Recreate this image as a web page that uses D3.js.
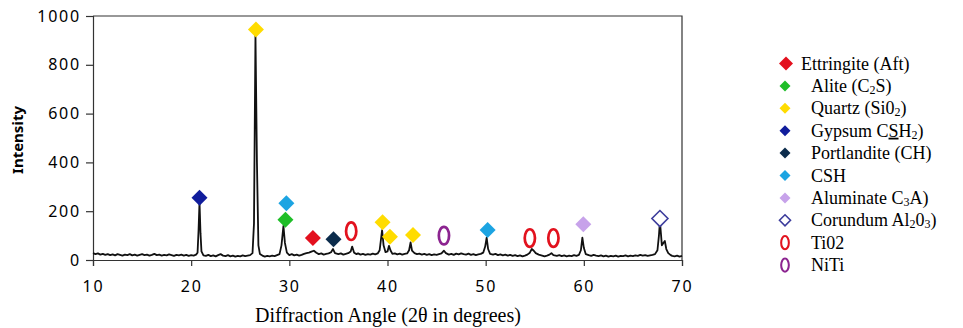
<!DOCTYPE html>
<html>
<head>
<meta charset="utf-8">
<script src="https://cdn.jsdelivr.net/npm/d3@7"></script>
<style>
  body { margin: 0; background: #fff; }
  .tick text { font-family: "Noto Sans", "Open Sans", sans-serif; font-size: 16px; letter-spacing: 1.8px; fill: #000; }
</style>
</head>
<body>
<div id="chart"></div>
<script>
// XRD pattern (2theta, intensity)
var pattern = [
  [10.0,28],[10.25,24],[10.5,27],[10.75,22],[11.0,25],[11.25,21],[11.5,24],[11.75,20],[12.0,23],[12.25,19],
  [12.5,24],[12.75,21],[13.0,18],[13.25,22],[13.5,20],[13.75,24],[14.0,19],[14.25,22],[14.5,18],[14.75,21],
  [15.0,24],[15.25,20],[15.5,22],[15.75,18],[16.0,21],[16.25,25],[16.5,20],[16.75,22],[17.0,18],[17.25,21],
  [17.5,19],[17.75,23],[18.0,20],[18.25,17],[18.5,21],[18.75,19],[19.0,22],[19.25,18],[19.5,21],[19.75,17],
  [20.0,20],[20.25,18],[20.5,22],[20.65,30],[20.75,120],[20.85,238],[20.95,110],[21.05,35],[21.25,19],[21.5,17],
  [21.75,21],[22.0,16],[22.25,19],[22.5,15],[22.75,20],[23.0,24],[23.25,18],[23.5,16],[23.75,20],[24.0,15],
  [24.25,18],[24.5,14],[24.75,17],[25.0,15],[25.25,19],[25.5,16],[25.75,18],[26.0,20],[26.25,28],[26.4,150],
  [26.55,925],[26.7,400],[26.85,60],[27.0,25],[27.25,18],[27.5,14],[27.75,17],[28.0,15],[28.25,18],[28.5,16],
  [28.75,20],[29.0,24],[29.2,60],[29.4,140],[29.55,70],[29.75,30],[30.0,20],[30.25,24],[30.5,19],[30.75,22],
  [31.0,18],[31.25,21],[31.5,25],[31.75,28],[32.0,30],[32.25,34],[32.5,38],[32.75,30],[33.0,24],[33.25,27],
  [33.5,22],[33.75,25],[34.0,27],[34.25,32],[34.45,45],[34.65,28],[35.0,24],[35.25,27],[35.5,22],[35.75,25],
  [36.0,28],[36.25,35],[36.4,55],[36.6,30],[36.85,24],[37.0,27],[37.25,22],[37.5,25],[37.75,21],[38.0,24],
  [38.25,22],[38.5,26],[38.75,23],[39.0,27],[39.2,40],[39.35,90],[39.45,122],[39.6,60],[39.8,32],[40.0,35],
  [40.15,58],[40.3,40],[40.5,25],[40.75,27],[41.0,23],[41.25,26],[41.5,22],[41.75,25],[42.0,27],[42.2,40],
  [42.35,72],[42.5,38],[42.75,28],[43.0,24],[43.25,26],[43.5,22],[43.75,25],[44.0,21],[44.25,24],[44.5,20],
  [44.75,23],[45.0,21],[45.25,24],[45.5,27],[45.75,38],[45.95,28],[46.25,22],[46.5,25],[46.75,21],[47.0,26],
  [47.25,23],[47.5,27],[47.75,24],[48.0,22],[48.25,26],[48.5,21],[48.75,24],[49.0,20],[49.25,23],[49.5,25],
  [49.75,30],[49.95,55],[50.1,92],[50.25,45],[50.45,25],[50.75,22],[51.0,25],[51.25,20],[51.5,23],[51.75,19],
  [52.0,22],[52.25,18],[52.5,21],[52.75,17],[53.0,20],[53.25,16],[53.5,19],[53.75,15],[54.0,18],[54.25,22],
  [54.5,30],[54.7,45],[54.9,38],[55.1,28],[55.4,22],[55.75,18],[56.0,15],[56.25,18],[56.5,22],[56.7,28],
  [56.9,20],[57.25,17],[57.5,20],[57.75,16],[58.0,19],[58.25,15],[58.5,18],[58.75,16],[59.0,20],[59.25,17],
  [59.5,21],[59.7,40],[59.85,92],[60.0,50],[60.2,24],[60.5,20],[60.75,17],[61.0,21],[61.25,18],[61.5,16],
  [61.75,19],[62.0,15],[62.25,18],[62.5,14],[62.75,17],[63.0,15],[63.25,18],[63.5,14],[63.75,17],[64.0,16],
  [64.25,19],[64.5,15],[64.75,18],[65.0,16],[65.25,19],[65.5,17],[65.75,21],[66.0,18],[66.25,20],[66.5,17],
  [66.75,19],[67.0,21],[67.25,24],[67.5,40],[67.65,100],[67.75,158],[67.85,110],[67.95,60],[68.1,70],[68.25,78],
  [68.4,45],[68.6,28],[68.85,20],[69.0,17],[69.25,15],[69.5,18],[69.75,14],[70.0,17]
];

// phases: legend order, colour, marker type
var phaseNames  = ["Ettringite", "Alite", "Quartz", "Gypsum", "Portlandite", "CSH", "Aluminate", "Corundum", "Ti02", "NiTi"];
var phaseColors = ["#e3101e", "#1fbe28", "#ffdc00", "#101c9c", "#0c2c4c", "#1ca4e2", "#c7a2ea", "#3c3c9c", "#e2121e", "#8c2490"];
var phaseShapes = ["diamond", "diamond", "diamond", "diamond", "diamond", "diamond", "diamond", "open", "ring", "ring"];

// legend labels: [text, style] pieces (0 plain, 1 subscript, 2 underlined)
var legendLabels = [
  [["Ettringite (Aft)", 0]],
  [["Alite (C", 0], ["2", 1], ["S)", 0]],
  [["Quartz (Si0", 0], ["2", 1], [")", 0]],
  [["Gypsum C", 0], ["S", 2], ["H", 0], ["2", 1], [")", 0]],
  [["Portlandite (CH)", 0]],
  [["CSH", 0]],
  [["Aluminate C", 0], ["3", 1], ["A)", 0]],
  [["Corundum Al", 0], ["2", 1], ["0", 0], ["3", 1], [")", 0]],
  [["Ti02", 0]],
  [["NiTi", 0]]
];

// peak markers: [phase index, 2theta, intensity]
var peakMarks = [
  [3, 20.85, 255], [2, 26.6, 945], [5, 29.7, 233], [1, 29.6, 165], [0, 32.4, 90],
  [4, 34.5, 85], [8, 36.3, 118], [2, 39.5, 155], [2, 40.25, 95], [2, 42.6, 102],
  [9, 45.75, 100], [5, 50.2, 123], [8, 54.5, 90], [8, 56.9, 90], [6, 59.95, 147],
  [7, 67.75, 170]
];

var xTicks = [10, 20, 30, 40, 50, 60, 70];
var yTicks = [0, 200, 400, 600, 800, 1000];

var W = 963, H = 328;
var svg = d3.select("#chart").append("svg")
  .attr("width", W)
  .attr("height", H);

var x = d3.scaleLinear().domain([10, 70]).range([93, 682]);
var y = d3.scaleLinear().domain([0, 1000]).range([260, 16]);

// frame top + right
svg.append("path")
  .attr("d", "M" + x(10) + "," + y(1000) + "H" + x(70) + "V" + y(0))
  .attr("fill", "none")
  .attr("stroke", "#333")
  .attr("stroke-width", 1.2);

// axes
svg.append("g")
  .attr("transform", "translate(0," + y(0) + ")")
  .call(d3.axisBottom(x).tickValues(xTicks).tickSize(6).tickPadding(15).tickFormat(d3.format("d")))
  .call(function(g) { g.selectAll("line, path").attr("stroke", "#333").attr("stroke-width", 1.2); });

svg.append("g")
  .attr("transform", "translate(" + x(10) + ",0)")
  .call(d3.axisLeft(y).tickValues(yTicks).tickSize(7).tickPadding(5).tickFormat(d3.format("d")))
  .call(function(g) { g.selectAll("line, path").attr("stroke", "#333").attr("stroke-width", 1.2); });

// pattern line
var line = d3.line()
  .x(function(d) { return x(d[0]); })
  .y(function(d) { return y(d[1]); });

svg.append("path")
  .attr("d", line(pattern))
  .attr("fill", "none")
  .attr("stroke", "#111")
  .attr("stroke-width", 1.8)
  .attr("stroke-linejoin", "round");

// markers
function drawMark(g, type, color, cx, cy, s) {
  if (type === "ring") {
    g.append("ellipse")
      .attr("cx", cx).attr("cy", cy)
      .attr("rx", s * 0.32).attr("ry", s * 0.55)
      .attr("fill", "none").attr("stroke", color).attr("stroke-width", s * 0.17);
  } else {
    var r = s / 2;
    g.append("path")
      .attr("d", "M" + cx + "," + (cy - r) + "L" + (cx + r) + "," + cy + "L" + cx + "," + (cy + r) + "L" + (cx - r) + "," + cy + "Z")
      .attr("fill", type === "open" ? "#fff" : color)
      .attr("stroke", type === "open" ? color : "none")
      .attr("stroke-width", 1.6);
  }
}

var marks = svg.append("g");
peakMarks.forEach(function(m) {
  drawMark(marks, phaseShapes[m[0]], phaseColors[m[0]], x(m[1]), y(m[2]), 16);
});

// axis titles
svg.append("text")
  .attr("transform", "translate(23,140) rotate(-90)")
  .attr("text-anchor", "middle")
  .style("font-family", "'Noto Sans', sans-serif")
  .style("font-size", "15px")
  .style("font-weight", "bold")
  .text("Intensity");

svg.append("text")
  .attr("x", 388)
  .attr("y", 322)
  .attr("text-anchor", "middle")
  .style("font-family", "'Liberation Serif', serif")
  .style("font-size", "20px")
  .text("Diffraction Angle (2\u03B8 in degrees)");

// legend
var legend = svg.append("g")
  .style("font-family", "'Liberation Serif', serif")
  .style("font-size", "18px");

phaseNames.forEach(function(name, i) {
  var ly = 63.5 + i * 22.4;
  var first = i === 0;
  var ms = first ? 14 : (phaseShapes[i] === "ring" ? 12 : 11);
  drawMark(legend, phaseShapes[i], phaseColors[i], first ? 786 : 785, ly, ms);
  var t = legend.append("text")
    .attr("x", first ? 801 : 811)
    .attr("y", ly + 6);
  var prev = 0;
  legendLabels[i].forEach(function(p) {
    var ts = t.append("tspan").text(p[0]);
    if (p[1] === 1) ts.style("font-size", "12px").attr("dy", 2);
    else if (prev === 1) ts.attr("dy", -2);
    if (p[1] === 2) ts.style("text-decoration", "underline");
    prev = p[1];
  });
});
</script>
</body>
</html>
